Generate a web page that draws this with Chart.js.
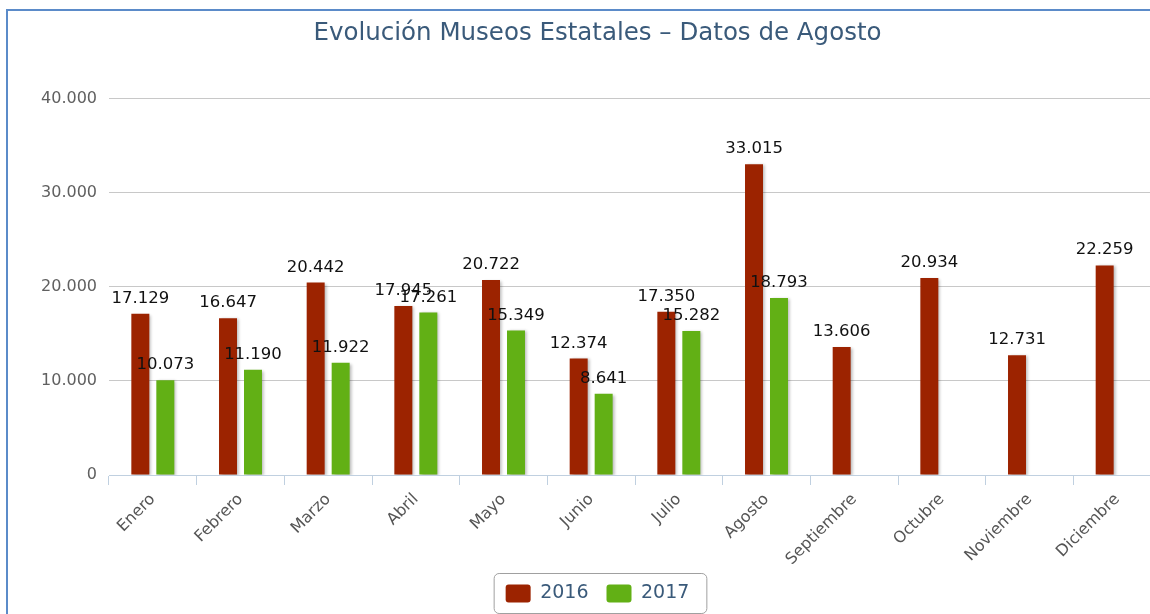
<!DOCTYPE html>
<html>
<head>
<meta charset="utf-8">
<script src="https://cdn.jsdelivr.net/npm/chart.js@4"></script>
<style>
  body { margin: 0; background: #fff; overflow: hidden; }
  #box {
    position: absolute; left: 6px; top: 9px;
    width: 1180px; height: 625px;
    border: 2px solid #5b8bc9;
  }
</style>
</head>
<body>
<div id="box"><canvas id="chartCanvas" width="1180" height="625"></canvas></div>
<script>
// data
const months = ['Enero', 'Febrero', 'Marzo', 'Abril', 'Mayo', 'Junio', 'Julio',
  'Agosto', 'Septiembre', 'Octubre', 'Noviembre', 'Diciembre'];
const visits2016 = [17129, 16647, 20442, 17945, 20722, 12374, 17350, 33015, 13606, 20934, 12731, 22259];
const visits2017 = [10073, 11190, 11922, 17261, 15349, 8641, 15282, 18793, null, null, null, null];
const yTicks = [0, 10000, 20000, 30000, 40000];

function fmt(n) {
  return n.toString().replace(/\B(?=(\d{3})+(?!\d))/g, '.');
}

const FONT = '"DejaVu Sans", Verdana, sans-serif';

// soft shadow behind the bars
const barShadow = {
  id: 'barShadow',
  beforeDatasetsDraw(chart) {
    const ctx = chart.ctx;
    ctx.save();
    ctx.shadowColor = 'rgba(0,0,0,0.28)';
    ctx.shadowOffsetX = 2;
    ctx.shadowOffsetY = 1;
    ctx.shadowBlur = 3;
  },
  afterDatasetsDraw(chart) {
    chart.ctx.restore();
  }
};

// value labels above every bar
const valueLabels = {
  id: 'valueLabels',
  afterDatasetsDraw(chart) {
    const ctx = chart.ctx;
    ctx.save();
    ctx.font = '16.5px ' + FONT;
    ctx.fillStyle = '#111';
    ctx.textAlign = 'center';
    ctx.textBaseline = 'bottom';
    chart.data.datasets.forEach((ds, i) => {
      chart.getDatasetMeta(i).data.forEach((bar, j) => {
        if (ds.data[j] == null) return;
        ctx.fillText(fmt(ds.data[j]), bar.x, bar.y - 7);
      });
    });
    ctx.restore();
  }
};

// rounded frame round the legend
const legendFrame = {
  id: 'legendFrame',
  afterDraw(chart) {
    const boxes = chart.legend.legendHitBoxes;
    if (!boxes || !boxes.length) return;
    let x0 = Infinity, y0 = Infinity, x1 = -Infinity, y1 = -Infinity;
    boxes.forEach(b => {
      x0 = Math.min(x0, b.left); y0 = Math.min(y0, b.top);
      x1 = Math.max(x1, b.left + b.width); y1 = Math.max(y1, b.top + b.height);
    });
    const ctx = chart.ctx;
    ctx.save();
    ctx.strokeStyle = '#a0a0a0';
    ctx.lineWidth = 1;
    ctx.beginPath();
    ctx.roundRect(x0 - 11.5, y0 - 10.5, x1 - x0 + 29, y1 - y0 + 21, 5);
    ctx.stroke();
    ctx.restore();
  }
};

const ctx = document.getElementById('chartCanvas').getContext('2d');
new Chart(ctx, {
  type: 'bar',
  data: {
    labels: months,
    datasets: [
      {label: '2016', data: visits2016, backgroundColor: '#9c2300'},
      {label: '2017', data: visits2017, backgroundColor: '#62b015'}
    ]
  },
  options: {
    responsive: false,
    animation: false,
    categoryPercentage: 0.57,
    barPercentage: 0.72,
    layout: {padding: {left: 26, right: 27, top: 0, bottom: 23}},
    plugins: {
      title: {
        display: true,
        text: 'Evolución Museos Estatales – Datos de Agosto',
        color: '#3a5a7a',
        font: {family: FONT, size: 24.5, weight: 'normal'},
        padding: {top: 8, bottom: 50}
      },
      legend: {
        position: 'bottom',
        labels: {
          color: '#3a5a7a',
          font: {family: FONT, size: 19},
          boxWidth: 25,
          boxHeight: 18,
          useBorderRadius: true,
          borderRadius: 3,
          padding: 18
        }
      },
      tooltip: {enabled: false}
    },
    scales: {
      x: {
        grid: {display: true, drawOnChartArea: false, color: '#c0d0e0', tickLength: 10, offset: true},
        border: {color: '#c0d0e0'},
        ticks: {
          color: '#555',
          font: {family: FONT, size: 16},
          minRotation: 45,
          maxRotation: 45,
          padding: 5
        },
        afterFit: s => { s.height = 91; }
      },
      y: {
        min: 0,
        max: 40000,
        afterBuildTicks: s => { s.ticks = yTicks.map(v => ({value: v})); },
        grid: {color: '#c8c8c8', drawTicks: false},
        border: {display: false},
        ticks: {
          color: '#606060',
          font: {family: FONT, size: 16},
          padding: 12,
          callback: v => fmt(v)
        },
        afterFit: s => { s.width = 75; }
      }
    }
  },
  plugins: [barShadow, valueLabels, legendFrame]
});
</script>
</body>
</html>
